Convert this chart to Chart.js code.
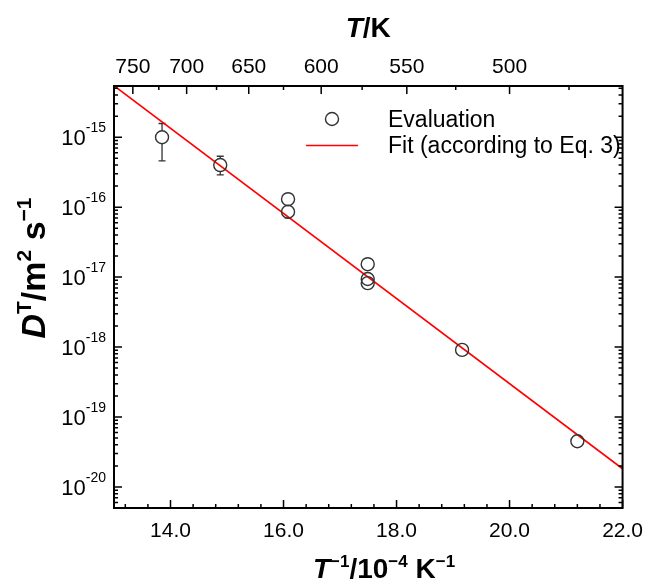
<!DOCTYPE html>
<html><head><meta charset="utf-8">
<script src="https://cdn.jsdelivr.net/npm/chart.js@4/dist/chart.umd.min.js"></script>
<style>html,body{margin:0;padding:0;background:#fff;}canvas{display:block;}</style>
</head><body>
<canvas id="c" width="654" height="581"></canvas>
<script>
// ---- data ----
const EVAL_X = [13.85, 14.88, 16.08, 16.08, 17.49, 17.49, 17.49, 19.16, 21.2];
const EVAL_Y = [1.0e-15, 4.0e-16, 1.3e-16, 8.6e-17, 1.53e-17, 9.4e-18, 8.2e-18, 9.1e-19, 4.5e-20];
const ERR_LOW  = [4.6e-16, 2.9e-16, null, 7.0e-17, null, null, null, null, null];
const ERR_HIGH = [1.57e-15, 5.35e-16, null, 1.0e-16, null, null, null, null, null];
const FIT_X = [13.0, 22.0];
const FIT_Y = [5.45e-15, 1.82e-20];
const X_TICKS = [13.2, 13.6, 14.0, 14.4, 14.8, 15.2, 15.6, 16.0, 16.4, 16.8, 17.2, 17.6, 18.0, 18.4, 18.8, 19.2, 19.6, 20.0, 20.4, 20.8, 21.2, 21.6, 22.0];
const X_MAJOR = [14.0, 16.0, 18.0, 20.0, 22.0];
const TOP_T = [750, 725, 700, 675, 650, 625, 600, 575, 550, 525, 500, 475];
const TOP_T_LABELS = [750, 700, 650, 600, 550, 500];
const Y_DECADES = [-20, -19, -18, -17, -16, -15];
const Y_MINOR_MULT = [2, 3, 4, 5, 6, 7, 8, 9];
const Y_MIN = 5e-21, Y_MAX = 5.4e-15;
const X_MIN = 13, X_MAX = 22;

const FAM = '"Liberation Sans", Arial, sans-serif';
const MARK = '#333333';

function rich(ctx, parts, x, y) {
  let w = 0;
  parts.forEach(p => { ctx.font = p.f; p.w = ctx.measureText(p.t).width; w += p.w; });
  let cx = x - w / 2;
  parts.forEach(p => { ctx.font = p.f; ctx.fillText(p.t, cx, y - (p.up || 0)); cx += p.w; });
}

const decor = {
  id: 'decor',
  beforeDatasetsDraw(chart) {
    const ctx = chart.ctx, xs = chart.scales.x, ys = chart.scales.y;
    ctx.save();
    ctx.strokeStyle = MARK; ctx.lineWidth = 1.3;
    EVAL_X.forEach((xv, i) => {
      if (ERR_LOW[i] == null) return;
      const px = xs.getPixelForValue(xv), py = ys.getPixelForValue(EVAL_Y[i]);
      const lo = ys.getPixelForValue(ERR_LOW[i]), hi = ys.getPixelForValue(ERR_HIGH[i]);
      const r = 6.5;
      ctx.beginPath();
      if (hi < py - r) { ctx.moveTo(px, py - r); ctx.lineTo(px, hi); ctx.moveTo(px - 3.5, hi); ctx.lineTo(px + 3.5, hi); }
      if (lo > py + r) { ctx.moveTo(px, py + r); ctx.lineTo(px, lo); }
      ctx.moveTo(px - 3.5, lo); ctx.lineTo(px + 3.5, lo);
      ctx.stroke();
    });
    ctx.restore();
  },
  afterDraw(chart) {
    const ctx = chart.ctx, a = chart.chartArea;
    const xs = chart.scales.x, x2 = chart.scales.x2, ys = chart.scales.y;
    ctx.save();
    // frame
    ctx.strokeStyle = '#000'; ctx.lineWidth = 2;
    ctx.strokeRect(a.left, a.top, a.right - a.left, a.bottom - a.top);
    // ticks
    ctx.lineWidth = 1.5;
    ctx.beginPath();
    xs.ticks.forEach(t => {
      const px = xs.getPixelForValue(t.value);
      const L = X_MAJOR.some(m => Math.abs(m - t.value) < 1e-6) ? 8 : 4;
      ctx.moveTo(px, a.bottom); ctx.lineTo(px, a.bottom - L);
    });
    x2.ticks.forEach(t => {
      const px = x2.getPixelForValue(t.value);
      const T = Math.round(1e4 / t.value);
      const L = TOP_T_LABELS.includes(T) ? 8 : 4;
      ctx.moveTo(px, a.top); ctx.lineTo(px, a.top + L);
    });
    const yt = [];
    for (let e = -21; e <= -15; e++) {
      yt.push([Math.pow(10, e), 8]);
      Y_MINOR_MULT.forEach(m => yt.push([m * Math.pow(10, e), 4]));
    }
    yt.forEach(([v, L]) => {
      if (v < Y_MIN || v > Y_MAX) return;
      const py = ys.getPixelForValue(v);
      ctx.moveTo(a.left, py); ctx.lineTo(a.left + L, py);
      ctx.moveTo(a.right, py); ctx.lineTo(a.right - L, py);
    });
    ctx.stroke();
    // y tick labels with superscripts
    ctx.fillStyle = '#000'; ctx.textBaseline = 'alphabetic'; ctx.textAlign = 'left';
    Y_DECADES.forEach(e => {
      const py = ys.getPixelForValue(Math.pow(10, e));
      const sup = '-' + Math.abs(e);
      ctx.font = '14px ' + FAM; const sw = ctx.measureText(sup).width;
      ctx.font = '22px ' + FAM; const bw = ctx.measureText('10').width;
      const R = 106;
      ctx.fillText('10', R - sw - bw, py + 8);
      ctx.font = '14px ' + FAM; ctx.fillText(sup, R - sw, py - 5);
    });
    // axis titles
    const B = 'bold 28px ' + FAM, BI = 'italic bold 28px ' + FAM, S = 'bold 17px ' + FAM;
    rich(ctx, [{t: 'T', f: BI}, {t: '/K', f: B}], (a.left + a.right) / 2, 37);
    rich(ctx, [{t: 'T', f: BI}, {t: '\u22121', f: S, up: 11}, {t: '/10', f: B}, {t: '\u22124', f: S, up: 11},
               {t: ' K', f: B}, {t: '\u22121', f: S, up: 11}], 384, 578);
    const YB = 'bold 34px ' + FAM, YBI = 'italic bold 34px ' + FAM, YS = 'bold 21px ' + FAM;
    ctx.save();
    ctx.translate(45, 268); ctx.rotate(-Math.PI / 2);
    rich(ctx, [{t: 'D', f: YBI}, {t: 'T', f: YS, up: 14}, {t: '/m', f: YB}, {t: '2', f: YS, up: 14},
               {t: ' s', f: YB}, {t: '\u22121', f: YS, up: 14}], 0, 0);
    ctx.restore();
    // legend
    ctx.strokeStyle = MARK; ctx.lineWidth = 1.4;
    ctx.beginPath(); ctx.arc(332, 119, 6.5, 0, Math.PI * 2); ctx.stroke();
    ctx.strokeStyle = '#ff0000'; ctx.lineWidth = 1.6;
    ctx.beginPath(); ctx.moveTo(306, 145.5); ctx.lineTo(358, 145.5); ctx.stroke();
    ctx.fillStyle = '#000'; ctx.font = '23px ' + FAM;
    ctx.fillText('Evaluation', 388, 127);
    ctx.fillText('Fit (according to Eq. 3)', 388, 153);
    ctx.restore();
  }
};

new Chart(document.getElementById('c'), {
  type: 'scatter',
  data: {
    datasets: [
      {
        label: 'Fit (according to Eq. 3)',
        data: FIT_X.map((x, i) => ({x, y: FIT_Y[i]})),
        showLine: true, borderColor: '#ff0000', borderWidth: 1.6, pointRadius: 0, fill: false, order: 2
      },
      {
        label: 'Evaluation',
        data: EVAL_X.map((x, i) => ({x, y: EVAL_Y[i]})),
        pointRadius: 6.5, pointBorderColor: MARK, pointBackgroundColor: 'rgba(0,0,0,0)', pointBorderWidth: 1.4, order: 1
      }
    ]
  },
  options: {
    responsive: false, animation: false, devicePixelRatio: 1,
    layout: {padding: 0},
    plugins: {legend: {display: false}, tooltip: {enabled: false}},
    scales: {
      x: {
        type: 'linear', position: 'bottom', min: X_MIN, max: X_MAX,
        afterBuildTicks: s => { s.ticks = X_TICKS.map(v => ({value: v})); },
        afterFit: s => { s.height = 73; },
        grid: {display: false, drawTicks: false}, border: {display: false},
        ticks: {autoSkip: false, maxRotation: 0, minRotation: 0, padding: 11, color: '#000',
          font: {family: FAM, size: 21},
          callback: v => X_MAJOR.some(m => Math.abs(m - v) < 1e-6) ? v.toFixed(1) : ''}
      },
      x2: {
        type: 'linear', position: 'top', min: X_MIN, max: X_MAX,
        afterBuildTicks: s => { s.ticks = TOP_T.map(T => ({value: 1e4 / T})); },
        afterFit: s => { s.height = 86; },
        grid: {display: false, drawTicks: false}, border: {display: false},
        ticks: {autoSkip: false, maxRotation: 0, minRotation: 0, padding: 6, color: '#000',
          font: {family: FAM, size: 21},
          callback: v => { const T = Math.round(1e4 / v); return TOP_T_LABELS.includes(T) ? String(T) : ''; }}
      },
      y: {
        type: 'logarithmic', position: 'left', min: Y_MIN, max: Y_MAX,
        afterFit: s => { s.width = 114; },
        grid: {display: false, drawTicks: false}, border: {display: false}, ticks: {display: false}
      },
      y2: {
        type: 'logarithmic', position: 'right', min: Y_MIN, max: Y_MAX,
        afterFit: s => { s.width = 27; },
        grid: {display: false, drawTicks: false}, border: {display: false}, ticks: {display: false}
      }
    }
  },
  plugins: [decor]
});
</script></body></html>
